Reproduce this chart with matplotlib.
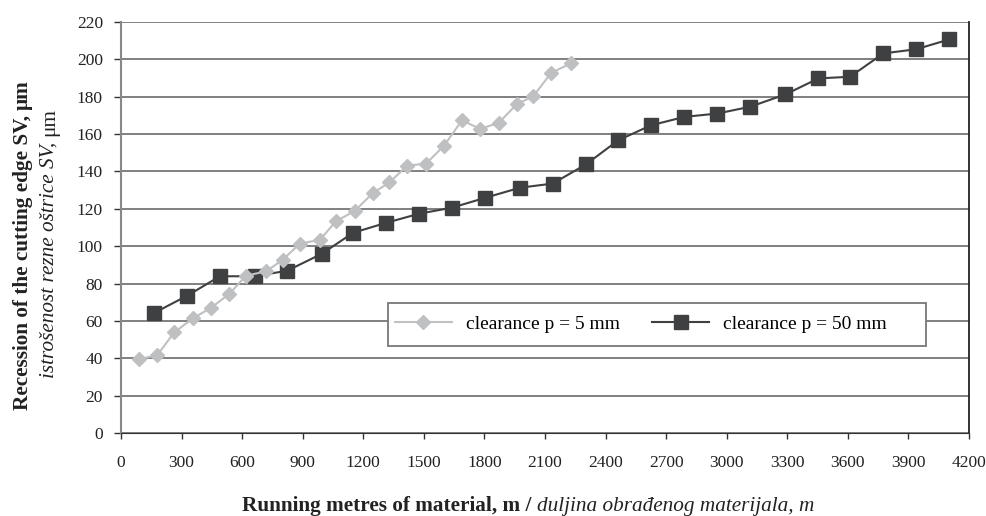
import numpy as np
import matplotlib.pyplot as plt
from matplotlib.patches import Rectangle

# clearance p = 5 mm (light grey diamonds)
x_p5 = [91, 180, 263, 355, 444, 536, 619, 718, 801, 886, 985, 1065, 1157,
        1247, 1329, 1418, 1511, 1600, 1689, 1778, 1871, 1960, 2042, 2131, 2227]
y_p5 = [39.5, 41.7, 53.8, 61.3, 66.9, 74.4, 84.2, 86.5, 92.7, 101.4, 103.4,
        113.4, 118.8, 128.4, 134.1, 143.1, 144.2, 153.8, 167.4, 162.8, 166.0,
        176.0, 180.3, 192.8, 197.8]

# clearance p = 50 mm (dark squares)
x_p50 = [163, 328, 490, 664, 824, 994, 1150, 1313, 1477, 1639, 1804, 1976,
         2138, 2303, 2463, 2625, 2790, 2953, 3115, 3290, 3454, 3611, 3776,
         3938, 4103]
y_p50 = [64.2, 73.5, 83.9, 83.9, 86.9, 95.9, 107.2, 112.5, 117.4, 120.6,
         125.9, 131.3, 133.5, 143.8, 156.7, 164.7, 169.2, 171.0, 174.6, 181.2,
         189.8, 190.7, 203.2, 205.4, 210.7]

x_ticks = list(range(0, 4201, 300))
y_ticks = list(range(0, 221, 20))

labels = ["clearance p = 5 mm", "clearance p = 50 mm"]

plt.rcParams['font.family'] = 'Liberation Serif'

fig = plt.figure(figsize=(9.86, 5.16), dpi=100)
ax = fig.add_axes([121/986, 83/516, 848/986, 411/516])

light = '#bfc0c2'
dark = '#3f4042'

l50, = ax.plot(x_p50, y_p50, color=dark, lw=1.5, marker='s', ms=10.5,
               label=labels[1], zorder=3)
l5, = ax.plot(x_p5, y_p5, color=light, lw=1.5, marker='D', ms=7,
              label=labels[0], zorder=4)

ax.set_xlim(0, 4200)
ax.set_ylim(0, 220)
ax.set_xticks(x_ticks)
ax.set_yticks(y_ticks)
ax.tick_params(axis='both', labelsize=12.5, direction='out', colors='#333333',
               labelcolor='#222222')
ax.tick_params(axis='y', length=5, pad=8, width=1)
ax.tick_params(axis='x', length=4, pad=12, width=1)

ax.yaxis.grid(True, color='#5e5e5e', lw=1.1)
ax.set_axisbelow(True)
ax.spines['top'].set_visible(False)
ax.spines['left'].set_color('#888888')
ax.spines['left'].set_linewidth(1.5)
ax.spines['bottom'].set_color('#333333')
ax.spines['right'].set_color('#222222')
ax.spines['right'].set_linewidth(1.3)

# legend box
ax.add_patch(Rectangle((0.3149, 0.2117), 0.6344, 0.1054, transform=ax.transAxes,
                       facecolor='white', edgecolor='#777777', lw=1.3,
                       zorder=5))
ax.legend(handles=[l5, l50], loc='center left', bbox_to_anchor=(0.3231, 0.264),
          ncol=2, frameon=False, fontsize=14, borderpad=0, borderaxespad=0,
          handlelength=2.93, handletextpad=0.72, columnspacing=1.65)

# axis titles (bold + italic pieces)
fs = 15.3
fig.canvas.draw()
r = fig.canvas.get_renderer()

# x label
tb = fig.text(242/986, 5/516, "Running metres of material, m /",
              fontweight='bold', fontsize=fs, color='#222222')
fig.canvas.draw()
bb = tb.get_window_extent(r)
fig.text((bb.x1 + 0.25*fs*100/72)/986, 5/516, "duljina obrađenog materijala, m",
         style='italic', fontsize=fs, color='#222222')


def vlabel(xb, yc, parts):
    texts = []
    for s, kw in parts:
        texts.append(fig.text(xb/986, 0, s, rotation=90, rotation_mode='anchor',
                              ha='left', va='baseline', fontsize=fs,
                              color='#222222', **kw))
    fig.canvas.draw()
    gap = 0.25*fs*100/72
    hs = [t.get_window_extent(r).height for t in texts]
    total = sum(hs) + gap*(len(hs)-1)
    y = (516 - yc) - total/2
    for t, h in zip(texts, hs):
        t.set_position((xb/986, y/516))
        y += h + gap


vlabel(28, 245, [("Recession of the cutting edge SV,", dict(fontweight='bold')),
                 ("μm", dict(fontweight='bold'))])
vlabel(54, 243, [("istrošenost rezne oštrice SV,", dict(style='italic')),
                 ("μm", dict())])

fig.savefig('out.png', dpi=100)
